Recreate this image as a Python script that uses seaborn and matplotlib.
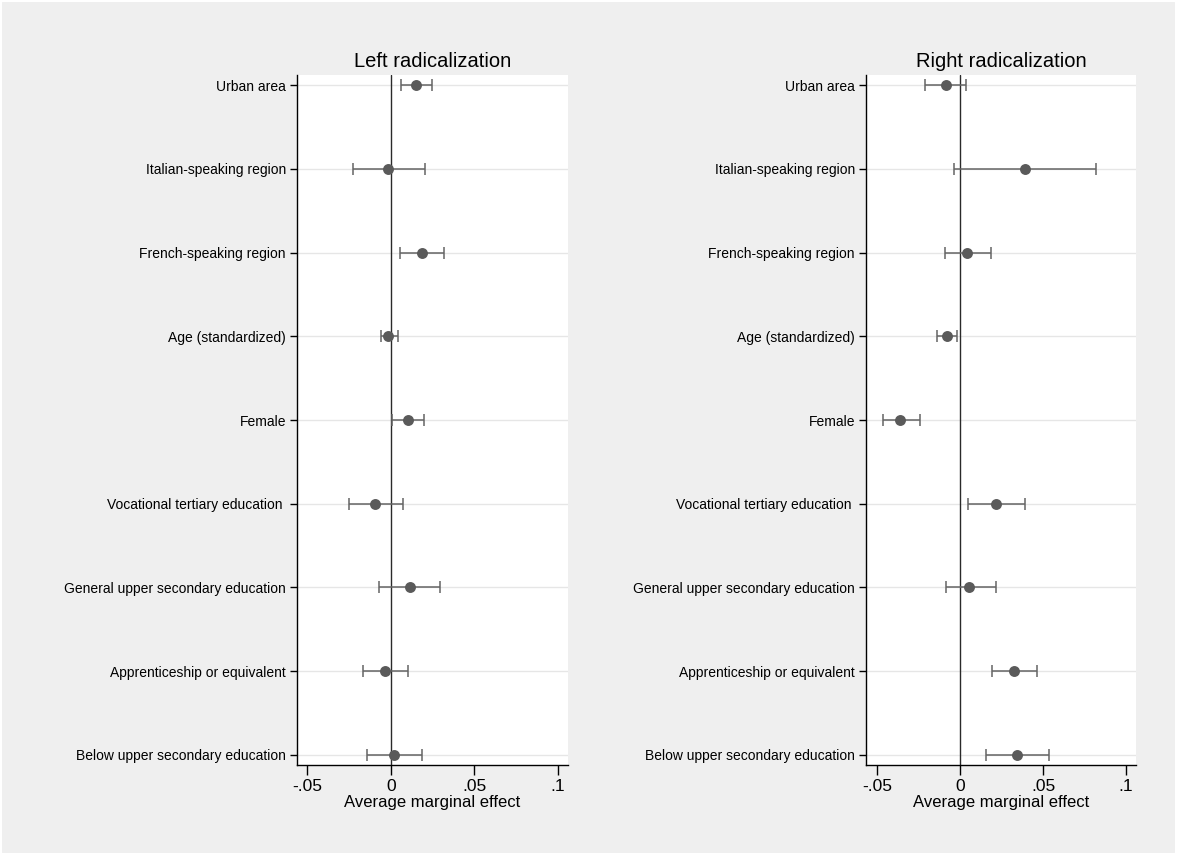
import numpy as np
import pandas as pd
import seaborn as sns
import matplotlib.pyplot as plt
from matplotlib.patches import Rectangle

# --- Datos ---
variables = [
    "Urban area",
    "Italian-speaking region",
    "French-speaking region",
    "Age (standardized)",
    "Female",
    "Vocational tertiary education ",
    "General upper secondary education",
    "Apprenticeship or equivalent",
    "Below upper secondary education",
]

left_est = [0.0152, -0.0018, 0.0188, -0.0018, 0.0102, -0.0094, 0.0116, -0.0034, 0.0018]
left_lo = [0.0062, -0.0228, 0.0056, -0.0058, 0.0008, -0.0248, -0.0070, -0.0164, -0.0142]
left_hi = [0.0248, 0.0208, 0.0320, 0.0044, 0.0200, 0.0072, 0.0294, 0.0102, 0.0188]

right_est = [-0.0084, 0.0390, 0.0040, -0.0080, -0.0361, 0.0217, 0.0054, 0.0327, 0.0345]
right_lo = [-0.0211, -0.0036, -0.0088, -0.0137, -0.0466, 0.0046, -0.0084, 0.0195, 0.0155]
right_hi = [0.0034, 0.0821, 0.0187, -0.0018, -0.0241, 0.0393, 0.0215, 0.0466, 0.0538]

titles = ["Left radicalization", "Right radicalization"]
xticks = [-0.05, 0, 0.05, 0.1]
xticklabels = ["-.05", "0", ".05", ".1"]

frames = []
for panel, est, lo, hi in [(titles[0], left_est, left_lo, left_hi),
                           (titles[1], right_est, right_lo, right_hi)]:
    frames.append(pd.DataFrame({"panel": panel, "variable": variables,
                                "pos": np.arange(len(variables)),
                                "est": est, "lo": lo, "hi": hi}))
df = pd.concat(frames, ignore_index=True)

# --- Estilo ---
sns.set_style("white")
plt.rcParams["font.family"] = ["Liberation Sans", "DejaVu Sans"]
plt.rcParams["text.color"] = "black"
plt.rcParams["axes.labelcolor"] = "black"
plt.rcParams["xtick.color"] = "black"
plt.rcParams["ytick.color"] = "black"

bg = "#efefef"
pt_color = "#5a5a5a"
ci_color = "#646464"

fig = plt.figure(figsize=(11.77, 8.55), dpi=100, facecolor=bg)
# borde blanco fino alrededor de la figura
fig.patches.append(Rectangle((0.0008, 0.0008), 0.9984, 0.9984, transform=fig.transFigure,
                             fill=False, edgecolor="white", lw=1.5))

axes_rect = [
    [297 / 1177, 1 - 765 / 855, 271 / 1177, 690 / 855],
    [866 / 1177, 1 - 765 / 855, 270 / 1177, 690 / 855],
]
xlims = [(-0.0562, 0.1062), (-0.0566, 0.1060)]

for rect, title, xlim in zip(axes_rect, titles, xlims):
    ax = fig.add_axes(rect)
    sub = df[df["panel"] == title]
    ax.set_facecolor("white")

    # líneas de cuadrícula horizontales
    for p in sub["pos"]:
        ax.axhline(p, color="#e6e6e6", lw=1.0, zorder=0)
    ax.axvline(0, color="#2a2a2a", lw=1.0, zorder=1)

    # intervalos de confianza
    ax.errorbar(sub["est"], sub["pos"],
                xerr=[sub["est"] - sub["lo"], sub["hi"] - sub["est"]],
                fmt="none", ecolor=ci_color, elinewidth=1.1,
                capsize=4, capthick=1.1, zorder=2)
    sns.scatterplot(data=sub, x="est", y="pos", ax=ax, color=pt_color,
                    s=62, edgecolor=pt_color, linewidth=0, zorder=3, legend=False)

    ax.set_xlim(*xlim)
    ax.set_ylim(len(variables) - 1 + 0.12, -0.12)
    ax.set_yticks(sub["pos"])
    ax.set_yticklabels(sub["variable"], fontsize=10)
    ax.set_xticks(xticks)
    ax.set_xticklabels(xticklabels, fontsize=12.5)
    ax.tick_params(axis="y", direction="out", length=5, width=1, color="black",
                   left=True, pad=3)
    ax.tick_params(axis="x", direction="out", length=7, width=1, color="black",
                   bottom=True, pad=3)
    for side in ["top", "right"]:
        ax.spines[side].set_visible(False)
    for side in ["left", "bottom"]:
        ax.spines[side].set_color("black")
        ax.spines[side].set_linewidth(1.0)
    ax.set_ylabel("")
    ax.set_xlabel("Average marginal effect", fontsize=12, labelpad=1)
    ax.set_title(title, fontsize=14.5, pad=6)

fig.savefig("out.png", dpi=100, facecolor=bg)
